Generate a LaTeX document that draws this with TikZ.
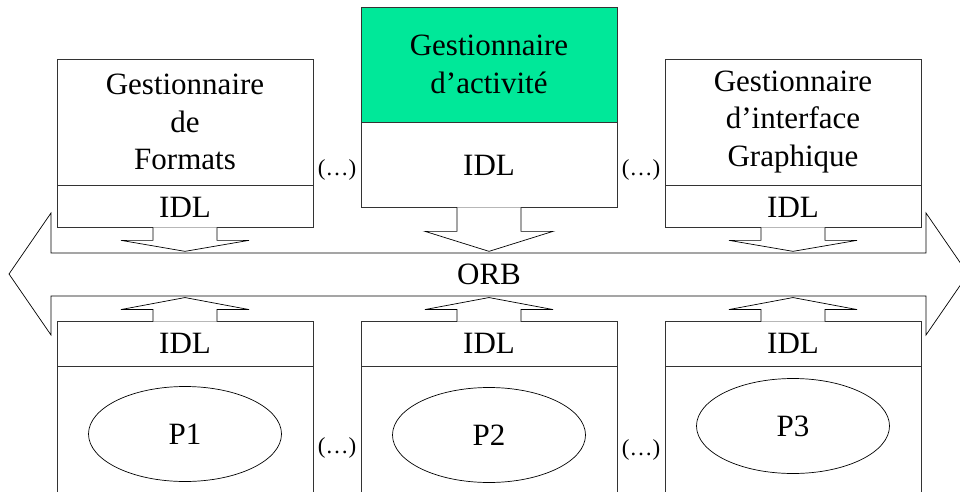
\documentclass[tikz,border=0pt]{standalone}
\usepackage{fontspec}
\setmainfont{Liberation Serif}
\usepackage{tikz}
\usetikzlibrary{positioning,calc,shapes.geometric}
\definecolor{actgreen}{RGB}{0,232,153}

\begin{document}
\begin{tikzpicture}[x=1pt, y=-1pt,
  compbox/.style={draw=black!80, line width=0.9pt, minimum width=256pt, inner sep=0pt,
    align=center, font=\fontsize{31}{37.5}\selectfont},
  blockarrow/.style={draw=black, line width=0.7pt, fill=white, line join=miter},
  proc/.style={ellipse, draw=black, line width=0.7pt, minimum width=193pt, minimum height=95pt,
    inner sep=0pt, font=\fontsize{31}{37.5}\selectfont},
  etc/.style={inner sep=0pt, font=\fontsize{23}{28}\selectfont}]

% Drawing window
\useasboundingbox (0,0) rectangle (960,492);
\clip (0,0) rectangle (960,492);

% Top components
\node[compbox, minimum height=126pt] (fmt) at (185,122) {Gestionnaire\\de\\Formats};
\node[compbox, minimum height=42pt, below=0pt of fmt] (fmtidl) {IDL};
\node[compbox, fill=actgreen, minimum height=115pt] (act) at (489,64.5) {Gestionnaire\\d’activité};
\node[compbox, minimum height=85pt, below=0pt of act] (actidl) {IDL};
\node[compbox, minimum height=126pt] (gui) at (793,122) {Gestionnaire\\d’interface\\Graphique};
\node[compbox, minimum height=42pt, below=0pt of gui] (guiidl) {IDL};

% Bottom components
\foreach \i/\x in {1/185, 2/489, 3/793} {
  \node[compbox, minimum height=45pt] (pidl\i) at (\x,343.5) {IDL};
  \node[compbox, minimum height=144pt, below=0pt of pidl\i] (pbox\i) {};
}
\node[proc] (p1) at (185,434) {P1};
\node[proc] (p2) at (489,435) {P2};
\node[proc] (p3) at (793,426) {P3};

% ORB bus
\draw[line width=0.7pt, line join=miter]
  (9,274) -- (51,213) -- (51,253) -- (926,253) -- (926,213) -- (968,274)
  -- (926,335) -- (926,296) -- (51,296) -- (51,335) -- cycle;
\node[font=\fontsize{31}{37.5}\selectfont] (orb) at (489,274) {ORB};

% Arrows down to the bus
\foreach \b/\s/\h in {fmtidl/12/11, actidl/23/20, guiidl/12/11}
  \draw[blockarrow] ($(\b.south)+(-32,-1)$) -- ++(0,\s+1) -- ++(-32,0) -- ++(64,\h)
    -- ++(64,-\h) -- ++(-32,0) -- ++(0,-\s-1);

% Arrows up to the bus
\foreach \i in {1,2,3}
  \draw[blockarrow] ($(pidl\i.north)+(-32,1)$) -- ++(0,-12) -- ++(-32,0) -- ++(64,-12)
    -- ++(64,12) -- ++(-32,0) -- ++(0,12);

% Other components
\node[etc] (etc1) at (337,170) {(…)};
\node[etc] (etc2) at (641,170) {(…)};
\node[etc] (etc3) at (337,448) {(…)};
\node[etc] (etc4) at (641,450) {(…)};

\end{tikzpicture}
\end{document}
